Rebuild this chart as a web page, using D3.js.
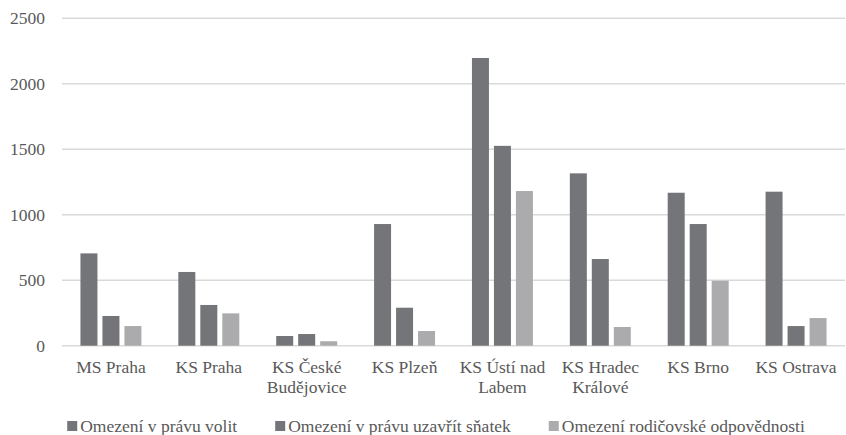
<!DOCTYPE html>
<html>
<head>
<meta charset="utf-8">
<script src="https://cdn.jsdelivr.net/npm/d3@7"></script>
<style>
  body { margin: 0; background: #fff; }
  svg text { fill: #595959; }
</style>
</head>
<body>
<script>
// data
var courts = [["MS Praha"], ["KS Praha"], ["KS České", "Budějovice"], ["KS Plzeň"],
              ["KS Ústí nad", "Labem"], ["KS Hradec", "Králové"], ["KS Brno"], ["KS Ostrava"]];
var seriesNames = ["Omezení v právu volit", "Omezení v právu uzavřít sňatek", "Omezení rodičovské odpovědnosti"];
var volit   = [705, 563, 74, 929, 2197, 1316, 1168, 1176];
var snatek  = [227, 311, 89, 290, 1526, 662, 929, 150];
var rodic   = [150, 247, 34, 112, 1181, 143, 496, 211];
var yTicks  = [0, 500, 1000, 1500, 2000, 2500];
var colors  = ["#747578", "#747578", "#ababae"];

var W = 846, H = 435;
var mLeft = 62, mRight = 845, mTop = 18.3, mBottom = 345.7;
var fs = 17.5;
var font = "'Liberation Serif', 'DejaVu Serif', serif";

var svg = d3.select("body").append("svg").attr("width", W).attr("height", H)
  .style("font-family", font);

var series = [volit, snatek, rodic];
var idx = d3.range(courts.length);

var x = d3.scaleBand().domain(idx).range([mLeft, mRight]).paddingInner(0.377).paddingOuter(0.1885);
var x1 = d3.scaleBand().domain([0, 1, 2]).range([0, x.bandwidth()]).paddingInner(0.227);
var y = d3.scaleLinear().domain([0, 2500]).range([mBottom, mTop]);

// gridlines
svg.append("g").selectAll("line").data(yTicks).enter().append("line")
  .attr("x1", mLeft).attr("x2", mRight)
  .attr("y1", function(d){ return y(d); }).attr("y2", function(d){ return y(d); })
  .attr("stroke", "#d9d9d9").attr("stroke-width", 1.5);

// y tick labels
svg.append("g").selectAll("text").data(yTicks).enter().append("text")
  .attr("x", 45).attr("y", function(d){ return y(d); })
  .attr("dy", "0.35em").attr("text-anchor", "end")
  .style("font-size", fs + "px")
  .text(function(d){ return d; });

// bars
var groups = svg.append("g").selectAll("g").data(idx).enter().append("g")
  .attr("transform", function(i){ return "translate(" + x(i) + ",0)"; });

groups.selectAll("rect").data(function(i){ return series.map(function(s, k){ return {k: k, v: s[i]}; }); })
  .enter().append("rect")
  .attr("x", function(d){ return x1(d.k); })
  .attr("width", x1.bandwidth())
  .attr("y", function(d){ return y(d.v); })
  .attr("height", function(d){ return y(0) - y(d.v); })
  .attr("fill", function(d){ return colors[d.k]; });

// category labels
var cat = svg.append("g").selectAll("text").data(idx).enter().append("text")
  .attr("text-anchor", "middle")
  .attr("x", function(i){ return x(i) + x.bandwidth() / 2; })
  .attr("y", 372.5)
  .style("font-size", fs + "px");
cat.selectAll("tspan").data(function(i){ return courts[i]; }).enter().append("tspan")
  .attr("x", function(){ var i = d3.select(this.parentNode).datum(); return x(i) + x.bandwidth() / 2; })
  .attr("dy", function(d, j){ return j ? 20.5 : 0; })
  .text(function(d){ return d; });

// legend
var gap = 38;
var legend = svg.append("g");
var items = legend.selectAll("g").data(seriesNames).enter().append("g");
items.append("rect").attr("width", 10).attr("height", 10).attr("y", 421)
  .attr("fill", function(d, k){ return colors[k]; });
items.append("text").attr("x", 13).attr("y", 432).style("font-size", fs + "px")
  .text(function(d){ return d; });
var pos = 0, widths = [];
items.each(function(){ widths.push(13 + d3.select(this).select("text").node().getComputedTextLength()); });
var total = d3.sum(widths) + gap * (widths.length - 1);
var startX = 436 - total / 2;
items.attr("transform", function(d, k){
  var t = "translate(" + (startX + pos) + ",0)";
  pos += widths[k] + gap;
  return t;
});
</script>
</body>
</html>
